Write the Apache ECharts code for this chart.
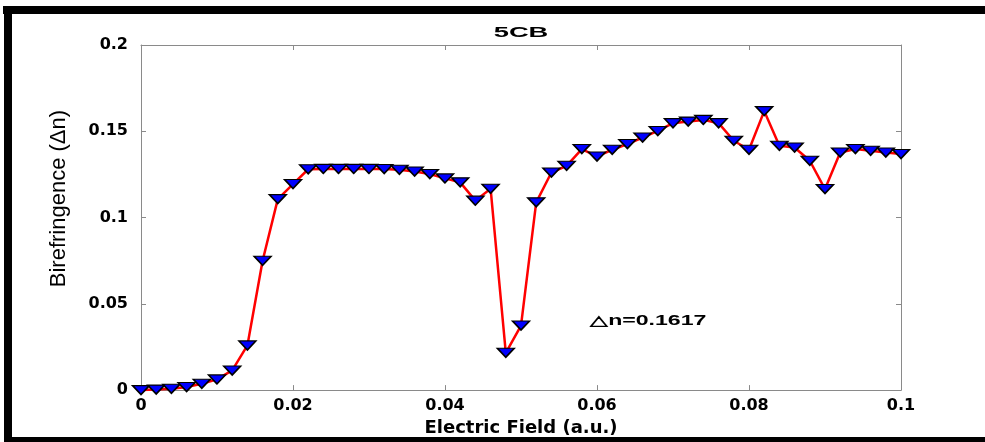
<!DOCTYPE html>
<html>
<head>
<meta charset="utf-8">
<script src="https://cdn.jsdelivr.net/npm/echarts@6/dist/echarts.min.js"></script>
<style>
html,body{margin:0;padding:0;background:#fff;}
#chart{width:985px;height:442px;}
</style>
</head>
<body>
<div id="chart"></div>
<script>
const chartTitle = '5CB';
const xAxisTitle = 'Electric Field (a.u.)';
const yAxisTitle = 'Birefringence (\u0394n)';
const annotationText = '\u25B3n=0.1617';

const fieldValues = [
  0, 0.002, 0.004, 0.006, 0.008, 0.010, 0.012, 0.014, 0.016, 0.018,
  0.020, 0.022, 0.024, 0.026, 0.028, 0.030, 0.032, 0.034, 0.036, 0.038,
  0.040, 0.042, 0.044, 0.046, 0.048, 0.050, 0.052, 0.054, 0.056, 0.058,
  0.060, 0.062, 0.064, 0.066, 0.068, 0.070, 0.072, 0.074, 0.076, 0.078,
  0.080, 0.082, 0.084, 0.086, 0.088, 0.090, 0.092, 0.094, 0.096, 0.098,
  0.100
];
const birefringence = [
  0.0000, 0.0003, 0.0008, 0.0018, 0.0037, 0.0062, 0.0114, 0.0259, 0.0750, 0.1107,
  0.1194, 0.1280, 0.1282, 0.1282, 0.1282, 0.1282, 0.1281, 0.1277, 0.1267, 0.1252,
  0.1227, 0.1204, 0.1098, 0.1167, 0.0216, 0.0374, 0.1088, 0.1261, 0.1300, 0.1397,
  0.1354, 0.1393, 0.1426, 0.1464, 0.1502, 0.1547, 0.1556, 0.1566, 0.1547, 0.1445,
  0.1393, 0.1617, 0.1416, 0.1406, 0.1329, 0.1165, 0.1377, 0.1397, 0.1387, 0.1377,
  0.1368
];
const xTicks = [0, 0.02, 0.04, 0.06, 0.08, 0.1];
const yTicks = [0, 0.05, 0.1, 0.15, 0.2];

const fmt = v => String(+(+v).toFixed(4));
const axisGrey = '#8a8a8a';
const tickFont = { fontFamily: 'DejaVu Sans', fontWeight: 'bold', fontSize: 16, color: '#000' };

const chart = echarts.init(document.getElementById('chart'), null, { renderer: 'canvas' });
const option = {
  backgroundColor: '#fff',
  animation: false,
  grid: { left: 141, right: 84, top: 45, bottom: 51, containLabel: false },
  xAxis: [
    {
      type: 'value', min: xTicks[0], max: xTicks[xTicks.length - 1], interval: xTicks[1] - xTicks[0],
      position: 'bottom',
      axisLine: { show: true, onZero: false, lineStyle: { color: axisGrey, width: 1 } },
      axisTick: { show: true, inside: true, length: 5, lineStyle: { color: axisGrey } },
      axisLabel: { show: true, margin: 8, formatter: fmt, ...tickFont },
      splitLine: { show: false },
      name: xAxisTitle, nameLocation: 'middle', nameGap: 24,
      nameTextStyle: { fontFamily: 'DejaVu Sans', fontWeight: 'bold', fontSize: 18, color: '#000' }
    },
    {
      type: 'value', min: xTicks[0], max: xTicks[xTicks.length - 1], interval: xTicks[1] - xTicks[0],
      position: 'top',
      axisLine: { show: true, onZero: false, lineStyle: { color: axisGrey, width: 1 } },
      axisTick: { show: true, inside: true, length: 5, lineStyle: { color: axisGrey } },
      axisLabel: { show: false },
      splitLine: { show: false }
    }
  ],
  yAxis: [
    {
      type: 'value', min: yTicks[0], max: yTicks[yTicks.length - 1], interval: yTicks[1] - yTicks[0],
      position: 'left',
      axisLine: { show: true, onZero: false, lineStyle: { color: axisGrey, width: 1 } },
      axisTick: { show: true, inside: true, length: 5, lineStyle: { color: axisGrey } },
      axisLabel: { show: true, margin: 13, formatter: fmt, ...tickFont },
      splitLine: { show: false },
      name: yAxisTitle, nameLocation: 'middle', nameGap: 71, nameRotate: 90,
      nameTextStyle: { fontFamily: 'Liberation Sans', fontSize: 22, color: '#000', padding: [0, 0, 0, 38] }
    },
    {
      type: 'value', min: yTicks[0], max: yTicks[yTicks.length - 1], interval: yTicks[1] - yTicks[0],
      position: 'right',
      axisLine: { show: true, onZero: false, lineStyle: { color: axisGrey, width: 1 } },
      axisTick: { show: true, inside: true, length: 5, lineStyle: { color: axisGrey } },
      axisLabel: { show: false },
      splitLine: { show: false }
    }
  ],
  series: [
    {
      type: 'line',
      xAxisIndex: 0, yAxisIndex: 0,
      data: fieldValues.map((x, i) => [x, birefringence[i]]),
      clip: false,
      lineStyle: { color: '#ff0000', width: 2.5 },
      symbol: 'triangle',
      symbolRotate: 180,
      symbolSize: [17, 9],
      showAllSymbol: true,
      itemStyle: { color: '#0000ff', borderColor: '#000', borderWidth: 1.5 },
      z: 3
    }
  ],
  graphic: [
    { type: 'rect', shape: { x: 3, y: 6, width: 982, height: 8 }, style: { fill: '#000' }, z: 10 },
    { type: 'rect', shape: { x: 4, y: 6, width: 8, height: 436 }, style: { fill: '#000' }, z: 10 },
    { type: 'rect', shape: { x: 4, y: 437, width: 981, height: 5 }, style: { fill: '#000' }, z: 10 },
    {
      type: 'text', x: 521, y: 33, scaleX: 1.95, scaleY: 1,
      style: { text: chartTitle, fontFamily: 'Liberation Sans', fontWeight: 'bold', fontSize: 14, fill: '#000', align: 'center', verticalAlign: 'middle' },
      z: 10
    },
    {
      type: 'text', x: 590, y: 321, scaleX: 1.65, scaleY: 1,
      style: { text: annotationText, fontFamily: 'Liberation Sans', fontWeight: 'bold', fontSize: 14, fill: '#000', align: 'left', verticalAlign: 'middle' },
      z: 10
    }
  ]
};
chart.setOption(option);
</script>
</body>
</html>
